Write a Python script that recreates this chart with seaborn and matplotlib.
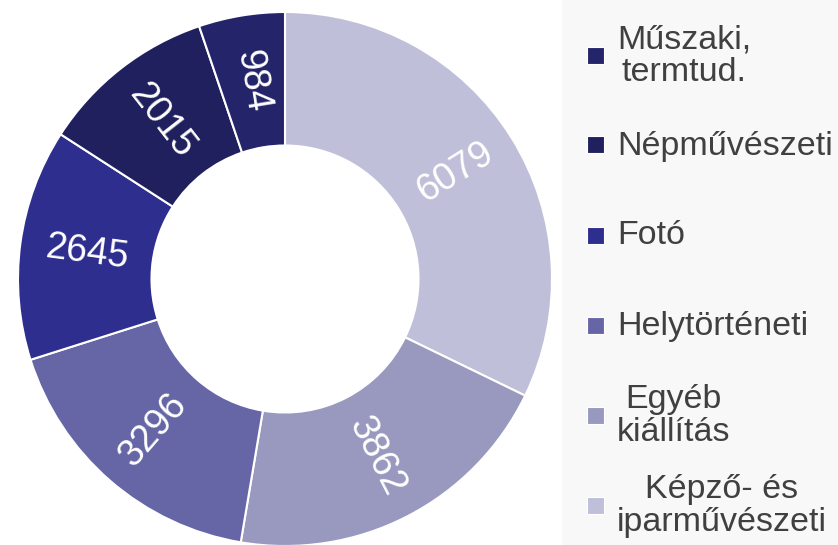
import numpy as np
import matplotlib
matplotlib.use('Agg')
import matplotlib.pyplot as plt
import seaborn as sns
from matplotlib.patches import Rectangle

# data, clockwise from 12 o'clock
categories = ['Képző- és\niparművészeti', 'Egyéb\nkiállítás', 'Helytörténeti',
              'Fotó', 'Népművészeti', 'Műszaki,\ntermtud.']
values = [6079, 3862, 3296, 2645, 2015, 984]
colors = ['#BFBFD9', '#9999BF', '#6666A6', '#2E2E8F', '#20205F', '#24246A']

sns.set_style('white')
plt.rcParams['font.family'] = ['Liberation Sans', 'DejaVu Sans']

fig = plt.figure(figsize=(8.38, 5.45), dpi=100)
W, H = 838, 545

# legend background strip
fig.add_artist(Rectangle((562 / W, 0), 1 - 562 / W, 1, transform=fig.transFigure,
                         facecolor='#F8F8F8', edgecolor='none', zorder=0))

cx, cy, R = 285, 279, 267
ax = fig.add_axes([(cx - R) / W, (H - cy - R) / H, 2 * R / W, 2 * R / H])
wedges, _ = ax.pie(values, colors=colors, startangle=90, counterclock=False,
                   radius=1, wedgeprops=dict(width=0.5, edgecolor='white', linewidth=1.5))
ax.set_xlim(-1, 1)
ax.set_ylim(-1, 1)
ax.set_aspect('equal')
ax.axis('off')

# value labels, rotated along the radius
for w, v in zip(wedges, values):
    th = (w.theta1 + w.theta2) / 2
    x, y = 0.75 * np.cos(np.radians(th)), 0.75 * np.sin(np.radians(th))
    th = th % 360
    rot = th - 180 if 90 < th < 270 else (th - 360 if th >= 270 else th)
    ax.text(x, y, str(v), color='white', fontsize=27, ha='center', va='center',
            rotation=rot, rotation_mode='anchor')

# legend, top to bottom in reverse order
leg_top, step = 55, 90
for i, (lab, c) in enumerate(zip(categories[::-1], colors[::-1])):
    yc = leg_top + i * step
    fig.add_artist(Rectangle((587 / W, 1 - (yc + 8.5) / H), 17 / W, 17 / H,
                             transform=fig.transFigure, facecolor=c,
                             edgecolor='white', linewidth=0.8))
    fig.text(617 / W, 1 - (yc + 1) / H, lab, fontsize=24.5, color='#404040',
             ha='left', va='center', multialignment='center', linespacing=1.07)

fig.savefig('out.png', dpi=100)
